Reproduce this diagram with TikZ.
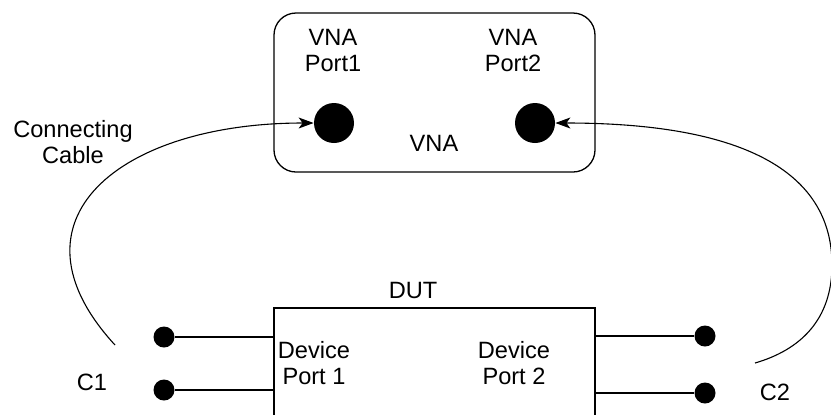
\documentclass[tikz,border=0pt]{standalone}
\usepackage{fontspec}
\setmainfont{Liberation Sans}
\usetikzlibrary{arrows.meta}

\tikzset{
  box/.style={draw, line width=0.65pt, inner sep=0pt},
  bigdot/.style={circle, fill=black, minimum size=20pt, inner sep=0pt},
  pin/.style={circle, fill=black, minimum size=10.5pt, inner sep=0pt},
  lbl/.style={align=center, inner sep=0pt},
  lead/.style={line width=0.65pt},
  cable/.style={->, line width=0.55pt},
}

\begin{document}
\begin{tikzpicture}[x=0.5pt, y=-0.5pt, >={Stealth[length=7.5pt,width=5.5pt,inset=2pt]},
    font=\fontsize{11.8}{13}\selectfont]
    \clip (0,0) rectangle (831,414);

    % VNA box and its ports
    \node[box, rounded corners=11pt, minimum width=160.5pt, minimum height=79.5pt] (vna) at (434.5,92.5) {};
    \node[bigdot] (p1) at (334,123) {};
    \node[bigdot] (p2) at (535,123) {};
    \node[lbl] (p1lbl) at (333,50) {VNA\\Port1};
    \node[lbl] (p2lbl) at (513,50) {VNA\\Port2};
    \node[lbl] (vnalbl) at (434,143) {VNA};

    % DUT
    \node[box, minimum width=160.5pt, minimum height=75pt] (dut) at (434.5,383) {};
    \node[lbl] (dutlbl) at (413,290) {DUT};
    \node[lbl] (d1) at (314,363) {Device\\Port 1};
    \node[lbl] (d2) at (514,363) {Device\\Port 2};

    % Pins
    \node[pin] (a1) at (164,337) {};
    \node[pin] (a2) at (164,390) {};
    \node[pin] (b1) at (705,336) {};
    \node[pin] (b2) at (705,393) {};
    \foreach \n in {a1,a2} \draw[lead] (\n) -- (\n -| dut.west);
    \foreach \n in {b1,b2} \draw[lead] (dut.east |- \n) -- (\n);

    % Labels
    \node[lbl] (cc) at (73,142) {Connecting\\Cable};
    \node[lbl] (c1) at (92,382) {C1};
    \node[lbl] (c2) at (775,392) {C2};

    % Cables
    \coordinate (c1end) at (115,345);
    \coordinate (c2end) at (755,363);
    \coordinate (c2mid) at (832,265);
    \draw[cable] (c1end) .. controls (0,220) and (120,123) .. (p1);
    \draw[cable] (c2end) .. controls (800,350) and (832,320) .. (c2mid)
        .. controls (832,170) and (740,123) .. (p2);
\end{tikzpicture}
\end{document}
